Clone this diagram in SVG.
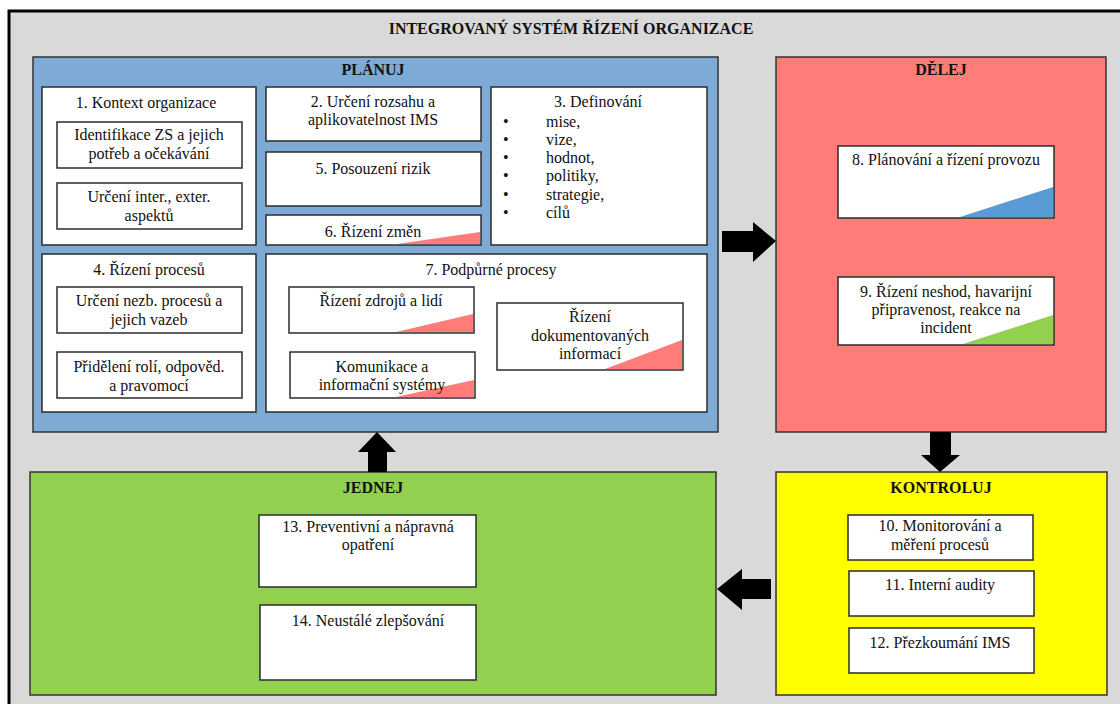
<svg xmlns="http://www.w3.org/2000/svg" width="1120" height="704" viewBox="0 0 1120 704" font-family="Liberation Serif, Times New Roman, serif">
  <style>
    text { font-size: 16px; fill: #111; }
    .c { text-anchor: middle; }
    .b { font-weight: bold; }
    .box { fill: #ffffff; stroke: #2b2b2b; stroke-width: 1.5; }
    .phase { stroke: #333; stroke-width: 1.5; }
    .arrow { fill: #000; }
  </style>

  <!-- page frame -->
  <rect x="9" y="11" width="1111" height="693" fill="#d9d9d9"/>
  <path d="M9,704 V11 H1120" fill="none" stroke="#000" stroke-width="3"/>
  <text class="c b" x="571" y="34">INTEGROVANÝ SYSTÉM ŘÍZENÍ ORGANIZACE</text>

  <!-- PLAN -->
  <g id="planuj">
    <rect class="phase" x="33" y="57" width="685" height="375" fill="#7eaad6"/>
    <text class="c b" x="373" y="75">PLÁNUJ</text>
  </g>

  <g id="n1">
    <rect class="box" x="42" y="87" width="214" height="158"/>
    <text class="c" x="146" y="108">1. Kontext organizace</text>
  </g>
  <g id="n1a">
    <rect class="box" x="57" y="122" width="185" height="46"/>
    <text class="c" x="149" y="140">Identifikace ZS a jejich</text>
    <text class="c" x="149" y="159">potřeb a očekávání</text>
  </g>
  <g id="n1b">
    <rect class="box" x="57" y="183" width="185" height="46"/>
    <text class="c" x="149" y="202">Určení inter., exter.</text>
    <text class="c" x="149" y="221">aspektů</text>
  </g>

  <g id="n2">
    <rect class="box" x="266" y="87" width="215" height="54"/>
    <text class="c" x="373" y="107">2. Určení rozsahu a</text>
    <text class="c" x="373" y="125">aplikovatelnost IMS</text>
  </g>
  <g id="n5">
    <rect class="box" x="266" y="152" width="215" height="54"/>
    <text class="c" x="373" y="174">5. Posouzení rizik</text>
  </g>
  <g id="n6">
    <rect class="box" x="266" y="215" width="215" height="30"/>
    <polygon points="397,244 480,232 480,244" fill="#ff7c78"/>
    <text class="c" x="373" y="237">6. Řízení změn</text>
  </g>

  <g id="n3">
    <rect class="box" x="491" y="87" width="216" height="158"/>
    <text class="c" x="598" y="107">3. Definování</text>
    <text x="503" y="127">•</text><text x="546" y="127">mise,</text>
    <text x="503" y="145">•</text><text x="546" y="145">vize,</text>
    <text x="503" y="163">•</text><text x="546" y="163">hodnot,</text>
    <text x="503" y="181">•</text><text x="546" y="181">politiky,</text>
    <text x="503" y="200">•</text><text x="546" y="200">strategie,</text>
    <text x="503" y="218">•</text><text x="546" y="218">cílů</text>
  </g>

  <g id="n4">
    <rect class="box" x="42" y="254" width="214" height="158"/>
    <text class="c" x="149" y="275">4. Řízení procesů</text>
  </g>
  <g id="n4a">
    <rect class="box" x="57" y="287" width="185" height="46"/>
    <text class="c" x="149" y="306">Určení nezb. procesů a</text>
    <text class="c" x="149" y="325">jejich vazeb</text>
  </g>
  <g id="n4b">
    <rect class="box" x="57" y="352" width="185" height="46"/>
    <text class="c" x="149" y="372">Přidělení rolí, odpověd.</text>
    <text class="c" x="149" y="391">a pravomocí</text>
  </g>

  <g id="n7">
    <rect class="box" x="266" y="254" width="441" height="158"/>
    <text class="c" x="491" y="275">7. Podpůrné procesy</text>
  </g>
  <g id="n7a">
    <rect class="box" x="289" y="287" width="185" height="46"/>
    <polygon points="396,332 473,314 473,332" fill="#ff7c78"/>
    <text class="c" x="381" y="306">Řízení zdrojů a lidí</text>
  </g>
  <g id="n7b">
    <rect class="box" x="290" y="352" width="185" height="46"/>
    <polygon points="396,397 474,380 474,397" fill="#ff7c78"/>
    <text class="c" x="382" y="372">Komunikace a</text>
    <text class="c" x="382" y="390">informační systémy</text>
  </g>
  <g id="n7c">
    <rect class="box" x="497" y="303" width="186" height="67"/>
    <polygon points="605,369 682,340 682,369" fill="#ff7c78"/>
    <text class="c" x="590" y="322">Řízení</text>
    <text class="c" x="590" y="341">dokumentovaných</text>
    <text class="c" x="590" y="359">informací</text>
  </g>

  <!-- DO -->
  <g id="delej">
    <rect class="phase" x="776" y="57" width="330" height="375" fill="#ff7c78"/>
    <text class="c b" x="941" y="75">DĚLEJ</text>
  </g>
  <g id="n8">
    <rect class="box" x="838" y="146" width="216" height="72"/>
    <polygon points="960,217 1053,187 1053,217" fill="#5b9bd5"/>
    <text class="c" x="946" y="165">8. Plánování a řízení provozu</text>
  </g>
  <g id="n9">
    <rect class="box" x="838" y="277" width="216" height="68"/>
    <polygon points="963,344 1053,315 1053,344" fill="#92d050"/>
    <text class="c" x="946" y="297">9. Řízení neshod, havarijní</text>
    <text class="c" x="946" y="315">připravenost, reakce na</text>
    <text class="c" x="946" y="333">incident</text>
  </g>

  <!-- CHECK -->
  <g id="kontroluj">
    <rect class="phase" x="776" y="472" width="331" height="223" fill="#ffff00"/>
    <text class="c b" x="941" y="493">KONTROLUJ</text>
  </g>
  <g id="n10">
    <rect class="box" x="848" y="515" width="185" height="45"/>
    <text class="c" x="940" y="531">10. Monitorování a</text>
    <text class="c" x="940" y="550">měření procesů</text>
  </g>
  <g id="n11">
    <rect class="box" x="849" y="571" width="185" height="45"/>
    <text class="c" x="940" y="590">11. Interní audity</text>
  </g>
  <g id="n12">
    <rect class="box" x="849" y="628" width="185" height="45"/>
    <text class="c" x="940" y="648">12. Přezkoumání IMS</text>
  </g>

  <!-- ACT -->
  <g id="jednej">
    <rect class="phase" x="30" y="472" width="686" height="223" fill="#92d050"/>
    <text class="c b" x="373" y="493">JEDNEJ</text>
  </g>
  <g id="n13">
    <rect class="box" x="259" y="515" width="217" height="72"/>
    <text class="c" x="368" y="532">13. Preventivní a nápravná</text>
    <text class="c" x="368" y="550">opatření</text>
  </g>
  <g id="n14">
    <rect class="box" x="260" y="605" width="216" height="75"/>
    <text class="c" x="368" y="626">14. Neustálé zlepšování</text>
  </g>

  <!-- cycle arrows -->
  <g id="connectors">
    <polygon class="arrow" points="722,231 753,231 753,222 776,241 753,262 753,252 722,252"/>
    <polygon class="arrow" points="930,432 951,432 951,455 960,455 940,472 921,455 930,455"/>
    <polygon class="arrow" points="771,579 742,579 742,569 717,589 742,610 742,599 771,599"/>
    <polygon class="arrow" points="368,472 387,472 387,452 396,452 377,432 358,452 368,452"/>
  </g>
</svg>
